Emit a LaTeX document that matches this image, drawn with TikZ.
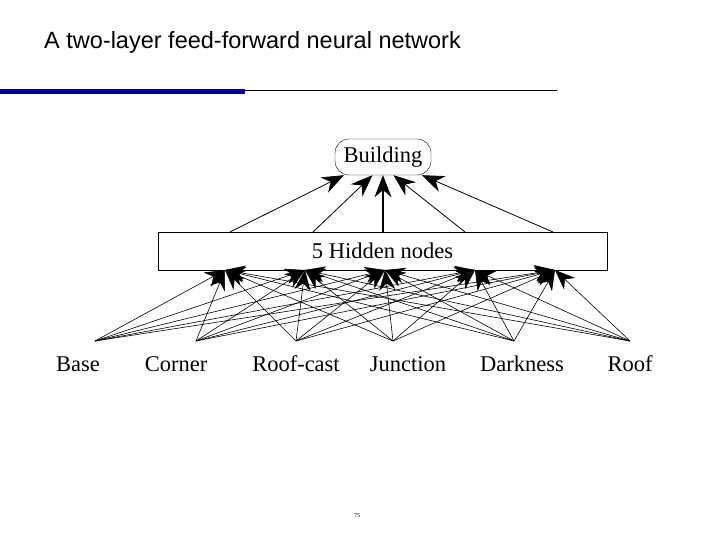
\documentclass[tikz,border=0pt]{standalone}
\usepackage{fontspec}
\setmainfont{Liberation Serif}
\newfontfamily\titlefont{Liberation Sans}
\usetikzlibrary{arrows.meta}
\begin{document}
\begin{tikzpicture}[x=1pt,y=-1pt,
  conn/.style={line width=0.8pt,-{Stealth[length=22pt,width=17pt]}},
  lbl/.style={font=\fontsize{22.5}{24}\selectfont, inner sep=0pt, anchor=base}]
\useasboundingbox (0,0) rectangle (720,540);
\node[anchor=base west,inner sep=0pt,font=\titlefont\fontsize{23.5}{26}\selectfont] (title) at (44,49) {A two-layer feed-forward neural network};
\fill[blue!60!black] (0,89) rectangle (245,94);
\draw[line width=1pt] (245,90.5) -- (557,90.5);
\node[draw,rounded corners=14pt,minimum width=96pt,minimum height=36pt,font=\fontsize{22.5}{24}\selectfont] (out) at (383,157) {Building};
\node[draw,line width=0.9pt,minimum width=449pt,minimum height=38pt,font=\fontsize{22.5}{24}\selectfont] (hid) at (382.5,251) {5 Hidden nodes};
\foreach \i/\x in {1/230,2/313,3/383,4/465,5/553}{
  \coordinate (t\i) at (\x,232);
}
\foreach \i/\x in {1/225,2/305,3/385,4/475,5/555}{
  \coordinate (b\i) at (\x,270);
}
\draw[conn] (t1) -- (out.205);
\draw[conn] (t2) -- (out.240);
\draw[conn,line width=1.2pt] (t3) -- (out.south);
\draw[conn] (t4) -- (out.300);
\draw[conn] (t5) -- (out.335);
\foreach \i/\x/\t in {1/78/Base,2/176/Corner,3/296/Roof-cast,4/408/Junction,5/522/Darkness,6/630/Roof}{
  \node[lbl] (l\i) at (\x,371) {\t};
}
\foreach \i/\x in {1/95,2/196,3/296,4/393,5/514,6/630}{
  \coordinate (c\i) at (\x,341);
}
\foreach \i in {1,...,6}{
  \foreach \j in {1,...,5}{
    \draw[line width=0.6pt,-{Stealth[length=20pt,width=16pt]}] (c\i) -- (b\j);
  }
}
\node[font=\fontsize{6}{7}\selectfont] (pg) at (357,516) {75};
\end{tikzpicture}
\end{document}
